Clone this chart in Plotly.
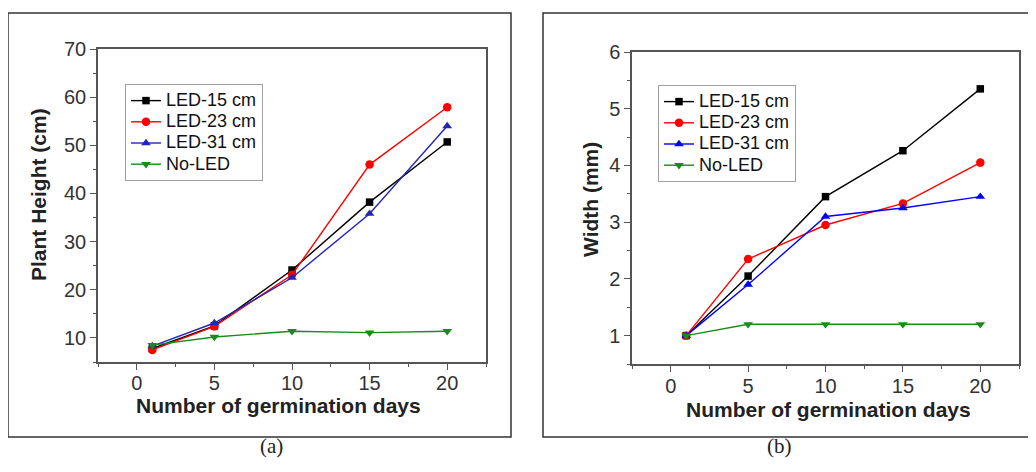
import plotly.graph_objects as go

days = [1, 5, 10, 15, 20]
series_names = ["LED-15 cm", "LED-23 cm", "LED-31 cm", "No-LED"]

# Panel (a): plant height (cm)
height_led15 = [7.8, 12.5, 24.1, 38.2, 50.7]
height_led23 = [7.5, 12.4, 23.1, 46.0, 57.9]
height_led31 = [8.3, 13.1, 22.5, 35.8, 54.0]
height_noled = [8.5, 10.2, 11.4, 11.1, 11.4]

# Panel (b): width (mm)
width_led15 = [1.0, 2.05, 3.45, 4.26, 5.35]
width_led23 = [1.0, 2.35, 2.95, 3.33, 4.05]
width_led31 = [1.0, 1.9, 3.1, 3.25, 3.45]
width_noled = [1.0, 1.2, 1.2, 1.2, 1.2]

x_ticks = [0, 5, 10, 15, 20]

# page body has an 8px margin: size the figure so it fits the window
OFF = 8
W, H = 1036 - 2 * OFF, 472 - 2 * OFF
FONT = "Liberation Sans, Arial, sans-serif"

def px(x):
    return (x - OFF) / W

def py(y):
    return 1 - (y - OFF) / H

symbols = ["square", "circle", "triangle-up", "triangle-down"]
sizes = [7.5, 8.5, 8.5, 8.5]
colors_a = ["#000000", "#ff0000", "#2424b8", "#1a8a1a"]
colors_b = ["#000000", "#ff0000", "#0000ff", "#1a8a1a"]

def label(n):
    return "<span style='font-size:18px'>%s</span>" % n

fig = go.Figure()

for vals, name, sym, sz, col in zip(
    [height_led15, height_led23, height_led31, height_noled],
    series_names, symbols, sizes, colors_a):
    fig.add_trace(go.Scatter(
        x=days, y=vals, name=label(name), mode="lines+markers",
        line=dict(color=col, width=1.4),
        marker=dict(symbol=sym, size=sz, color=col),
        xaxis="x", yaxis="y", legend="legend"))

for vals, name, sym, sz, col in zip(
    [width_led15, width_led23, width_led31, width_noled],
    series_names, symbols, sizes, colors_b):
    fig.add_trace(go.Scatter(
        x=days, y=vals, name=label(name), mode="lines+markers",
        line=dict(color=col, width=1.4),
        marker=dict(symbol=sym, size=sz, color=col),
        xaxis="x2", yaxis="y2", legend="legend2"))

axis_common = dict(
    showline=True, linecolor="#555555", linewidth=1.5, mirror=True,
    showgrid=False, zeroline=False, ticks="outside", ticklen=6,
    tickcolor="#555555", tickwidth=1.2, automargin=False,
    tickfont=dict(family=FONT, size=20, color="#333333"),
)

minor_x = dict(dtick=2.5, tick0=0, ticklen=3, ticks="outside", tickcolor="#555555")

fig.update_layout(
    width=W, height=H,
    margin=dict(l=0, r=0, t=0, b=0, autoexpand=False),
    paper_bgcolor="white", plot_bgcolor="white",
    xaxis=dict(domain=[px(98), px(486)], range=[-2.5, 22.5],
               tickmode="array", tickvals=x_ticks, minor=minor_x,
               ticklabelstandoff=-4, anchor="y", **axis_common),
    yaxis=dict(domain=[py(362), py(49)], range=[5, 70],
               dtick=10, tick0=10,
               minor=dict(dtick=5, tick0=5, ticklen=3, ticks="outside",
                          tickcolor="#555555"),
               anchor="x", **axis_common),
    xaxis2=dict(domain=[px(632), px(1019)], range=[-2.5, 22.5],
                tickmode="array", tickvals=x_ticks, minor=minor_x,
                ticklabelstandoff=-3, anchor="y2", **axis_common),
    yaxis2=dict(domain=[py(364), py(52)], range=[0.5, 6],
                dtick=1, tick0=1,
                minor=dict(dtick=0.5, tick0=0.5, ticklen=3, ticks="outside",
                           tickcolor="#555555"),
                anchor="x2", **axis_common),
    legend=dict(x=px(125), y=py(84), xanchor="left", yanchor="top",
                bordercolor="#a0a0a0", borderwidth=1, bgcolor="white",
                font=dict(family=FONT, size=14, color="#111111"),
                itemwidth=30, tracegroupgap=0),
    legend2=dict(x=px(658), y=py(85), xanchor="left", yanchor="top",
                 bordercolor="#a0a0a0", borderwidth=1, bgcolor="white",
                 font=dict(family=FONT, size=14, color="#111111"),
                 itemwidth=30, tracegroupgap=0),
    showlegend=True,
)

# Outer frames
fig.add_shape(type="rect", xref="paper", yref="paper",
              x0=px(8), x1=px(511), y0=py(437), y1=py(13),
              line=dict(color="#333333", width=1.5))
fig.add_shape(type="rect", xref="paper", yref="paper",
              x0=px(543), x1=px(1040), y0=py(437), y1=py(13),
              line=dict(color="#333333", width=1.5))

title_font = dict(family=FONT, size=21, color="#222222")
annots = [
    dict(text="<b>Number of germination days</b>", x=px(278), y=py(405)),
    dict(text="<b>Plant Height (cm)</b>", x=px(38), y=py(195), textangle=-90),
    dict(text="<b>Number of germination days</b>", x=px(828), y=py(409)),
    dict(text="<b>Width (mm)</b>", x=px(590), y=py(200), textangle=-90),
]
for a in annots:
    fig.add_annotation(xref="paper", yref="paper", showarrow=False,
                       xanchor="center", yanchor="middle", font=title_font, **a)

cap_font = dict(family="Liberation Serif, Times New Roman, serif", size=21,
                color="#222222")
fig.add_annotation(text="(a)", x=px(258), y=py(460), xref="paper", yref="paper",
                   showarrow=False, font=cap_font)
fig.add_annotation(text="(b)", x=px(794), y=py(460), xref="paper", yref="paper",
                   showarrow=False, font=cap_font)

fig.write_html("out.html")
